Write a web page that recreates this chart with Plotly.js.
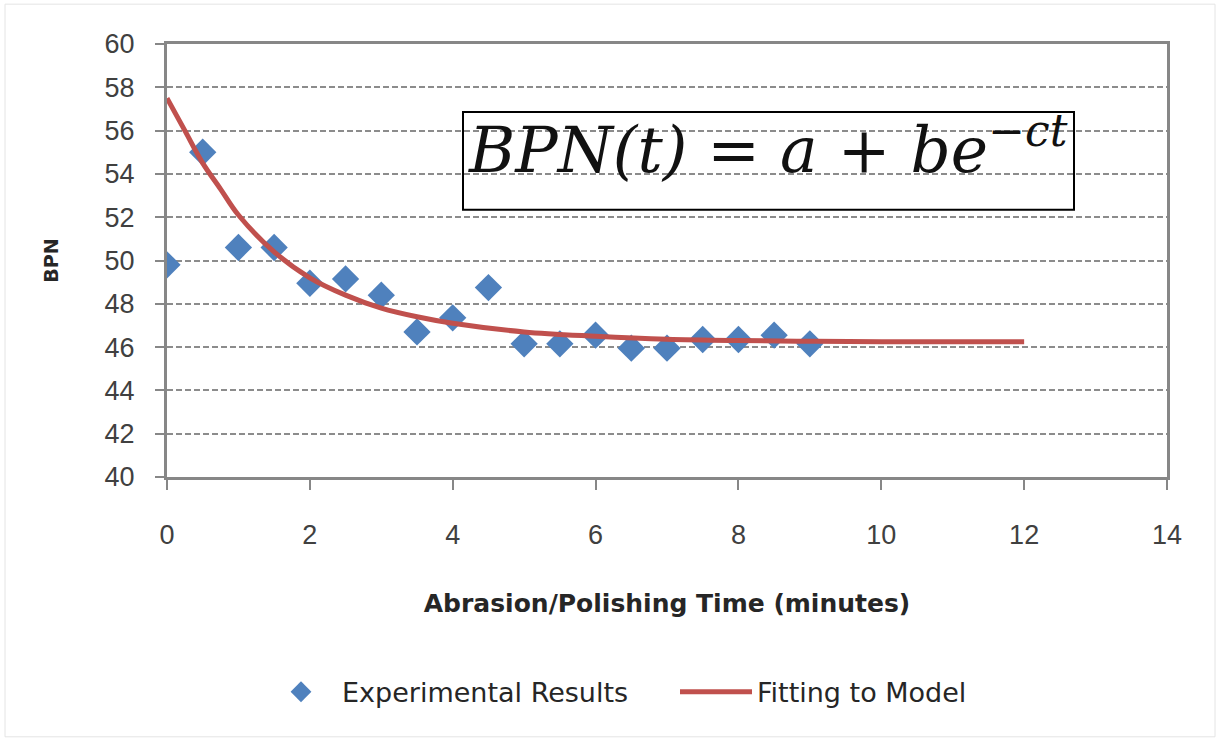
<!DOCTYPE html>
<html>
<head>
<meta charset="utf-8">
<script src="https://cdn.plot.ly/plotly-3.0.1.min.js"></script>
<style>html,body{margin:0;padding:0;background:#fff;}#chart{width:1220px;height:741px;}</style>
</head>
<body>
<div id="chart"></div>
<script>
const timeMin = [0, 0.5, 1, 1.5, 2, 2.5, 3, 3.5, 4, 4.5, 5, 5.5, 6, 6.5, 7, 7.5, 8, 8.5, 9];
const bpnExp  = [49.8, 55.0, 50.6, 50.6, 48.95, 49.15, 48.4, 46.7, 47.35, 48.75, 46.15, 46.15, 46.55, 45.95, 45.95, 46.35, 46.35, 46.55, 46.15];

// Fitted model curve
const fitTime = [0, 0.25, 0.5, 0.75, 1, 1.5, 2, 2.5, 3, 3.5, 4, 5, 6, 7, 8, 9, 10, 11, 12];
const fitBPN  = [57.5, 56.0, 54.5, 53.3, 52.1, 50.4, 49.2, 48.4, 47.8, 47.4, 47.1, 46.7, 46.5, 46.36, 46.3, 46.27, 46.25, 46.25, 46.25];

const xTickVals = [0, 2, 4, 6, 8, 10, 12, 14];
const yTickVals = [40, 42, 44, 46, 48, 50, 52, 54, 56, 58, 60];

const seriesNames = ['Experimental Results', 'Fitting to Model'];
const xTitle = 'Abrasion/Polishing Time (minutes)';
const yTitle = 'BPN';
const equationText = 'BPN(t) = a + be<sup>−ct</sup>';

const axisGray = '#878787';
const tickFont = {family: 'Liberation Sans, Arial, sans-serif', size: 27, color: '#404040'};

const traces = [
  {
    x: timeMin, y: bpnExp, type: 'scatter', mode: 'markers', name: seriesNames[0],
    marker: {symbol: 'diamond', size: 21, color: '#4F81BD', line: {width: 0}}
  },
  {
    x: fitTime, y: fitBPN, type: 'scatter', mode: 'lines', name: seriesNames[1],
    line: {color: '#C0504D', width: 5, shape: 'spline', smoothing: 1}
  }
];

const layout = {
  width: 1220, height: 741,
  paper_bgcolor: '#ffffff', plot_bgcolor: '#ffffff',
  margin: {l: 167, r: 53, t: 44, b: 264, pad: 0},
  showlegend: true,
  legend: {
    orientation: 'h', x: 0.093, xanchor: 'left', y: -0.497, yanchor: 'middle',
    font: {family: 'DejaVu Sans, sans-serif', size: 27, color: '#262626'},
    itemwidth: 72, entrywidth: 328, entrywidthmode: 'pixels', traceorder: 'normal'
  },
  xaxis: {
    range: [0, 14], tickvals: xTickVals, ticktext: xTickVals.map(String),
    showgrid: false, zeroline: false,
    showline: true, linecolor: axisGray, linewidth: 3, mirror: true,
    ticks: 'outside', ticklen: 10, tickwidth: 2, tickcolor: axisGray,
    ticklabelstandoff: 22,
    tickfont: tickFont,
    title: {text: xTitle, standoff: 46,
            font: {family: 'DejaVu Sans, sans-serif', size: 25, color: '#262626', weight: 'bold'}}
  },
  yaxis: {
    range: [40, 60], tickvals: yTickVals, ticktext: yTickVals.map(String),
    showgrid: true, gridcolor: '#8c8c8c', gridwidth: 2, griddash: '6px,3px',
    zeroline: false,
    showline: true, linecolor: axisGray, linewidth: 3, mirror: true,
    ticks: 'outside', ticklen: 9, tickwidth: 2, tickcolor: axisGray,
    ticklabelstandoff: 15,
    tickfont: tickFont,
    title: {text: yTitle, standoff: 41,
            font: {family: 'DejaVu Sans, sans-serif', size: 19, color: '#262626', weight: 'bold'}}
  },
  shapes: [
    {type: 'rect', xref: 'paper', yref: 'paper', x0: 0.296, x1: 0.907, y0: 0.617, y1: 0.843,
     line: {color: '#000000', width: 2}, fillcolor: 'rgba(0,0,0,0)', layer: 'above'},
    {type: 'rect', xref: 'paper', yref: 'paper', x0: -0.162, x1: 1.048, y0: -0.6, y1: 1.092,
     line: {color: '#e4e4e4', width: 1}, fillcolor: 'rgba(0,0,0,0)', layer: 'below'}
  ],
  annotations: [
    {xref: 'paper', yref: 'paper', x: 0.601, y: 0.764, xanchor: 'center', yanchor: 'middle',
     text: equationText, showarrow: false,
     font: {family: 'DejaVu Serif, serif', size: 63, color: '#111111', style: 'italic'}}
  ]
};

Plotly.newPlot('chart', traces, layout, {displayModeBar: false, staticPlot: true});
</script>
</body>
</html>
